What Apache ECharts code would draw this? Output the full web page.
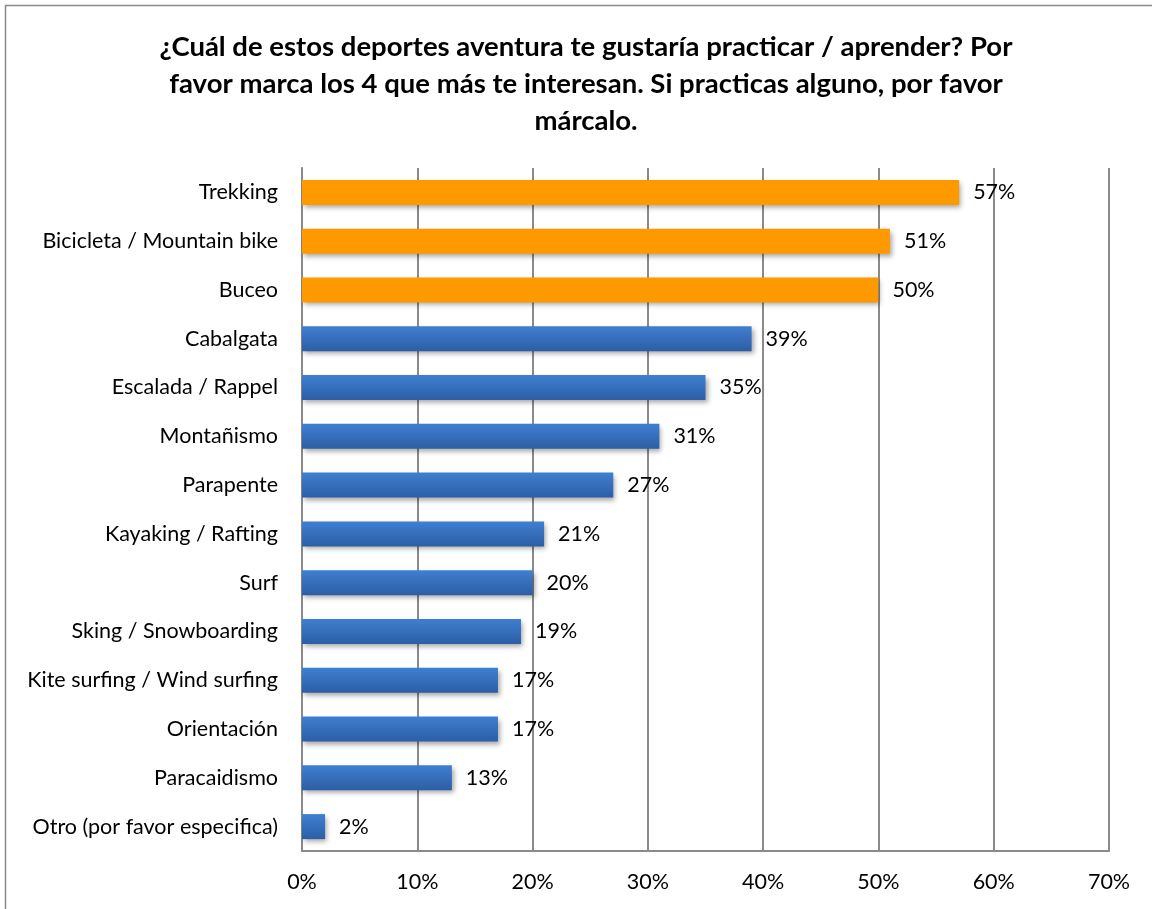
<!DOCTYPE html>
<html>
<head>
<meta charset="utf-8">
<script src="https://cdn.jsdelivr.net/npm/echarts@6/dist/echarts.min.js"></script>
<style>
  html, body { margin: 0; padding: 0; background: #fff; }
  #chart { width: 1152px; height: 909px; }
</style>
</head>
<body>
<div id="chart"></div>
<script>
// Survey answers: share of respondents per adventure sport
const categories = [
  'Trekking',
  'Bicicleta / Mountain bike',
  'Buceo',
  'Cabalgata',
  'Escalada / Rappel',
  'Montañismo',
  'Parapente',
  'Kayaking / Rafting',
  'Surf',
  'Sking / Snowboarding',
  'Kite surfing / Wind surfing',
  'Orientación',
  'Paracaidismo',
  'Otro (por favor especifica)'
];
const values = [57, 51, 50, 39, 35, 31, 27, 21, 20, 19, 17, 17, 13, 2];
// The top three answers are highlighted
const highlightCount = 3;
const xTicks = [0, 10, 20, 30, 40, 50, 60, 70];

const FONT = 'Lato, "Open Sans", sans-serif';

const blueFill = new echarts.graphic.LinearGradient(0, 0, 0, 1, [
  { offset: 0, color: '#3f7fd1' },
  { offset: 1, color: '#2c5ea5' }
]);
const orangeFill = '#ff9900';

const chart = echarts.init(document.getElementById('chart'), null, { renderer: 'canvas' });

chart.setOption({
  animation: false,
  backgroundColor: '#ffffff',
  graphic: [{
    type: 'rect',
    shape: { x: 5.5, y: 5.5, width: 1300, height: 1100 },
    style: { fill: 'none', stroke: '#8a8a8a', lineWidth: 1.5 },
    silent: true
  }],
  title: {
    text: '¿Cuál de estos deportes aventura te gustaría practicar / aprender? Por\nfavor marca los 4 que más te interesan. Si practicas alguno, por favor\nmárcalo.',
    left: 581,
    top: 24,
    textAlign: 'center',
    textStyle: {
      fontFamily: FONT,
      fontSize: 27.5,
      fontWeight: 'bold',
      color: '#000',
      lineHeight: 37
    }
  },
  grid: {
    left: 302,
    right: 43,
    top: 168,
    bottom: 58,
    containLabel: false
  },
  xAxis: {
    type: 'value',
    min: 0,
    max: 70,
    interval: 10,
    axisLine: { show: true, lineStyle: { color: '#8a8a8a', width: 2 } },
    axisTick: { show: false },
    splitLine: { show: true, lineStyle: { color: '#8a8a8a', width: 2 } },
    axisLabel: {
      formatter: v => xTicks.includes(v) ? v + '%' : '',
      fontFamily: FONT,
      fontSize: 21.5,
      color: '#000',
      margin: 20
    }
  },
  yAxis: {
    type: 'category',
    data: categories,
    inverse: true,
    axisLine: { show: true, lineStyle: { color: '#8a8a8a', width: 2 } },
    axisTick: { show: false },
    splitLine: { show: false },
    axisLabel: {
      fontFamily: FONT,
      fontSize: 21.5,
      color: '#000',
      margin: 24
    }
  },
  series: [{
    type: 'bar',
    data: values.map((v, i) => ({
      value: v,
      itemStyle: { color: i < highlightCount ? orangeFill : blueFill }
    })),
    barWidth: 25,
    itemStyle: {
      shadowColor: 'rgba(0,0,0,0.35)',
      shadowBlur: 5,
      shadowOffsetX: 2,
      shadowOffsetY: 3
    },
    label: {
      show: true,
      position: 'right',
      distance: 14,
      formatter: '{c}%',
      fontFamily: FONT,
      fontSize: 21.5,
      color: '#000'
    }
  }]
});
</script>
</body>
</html>
